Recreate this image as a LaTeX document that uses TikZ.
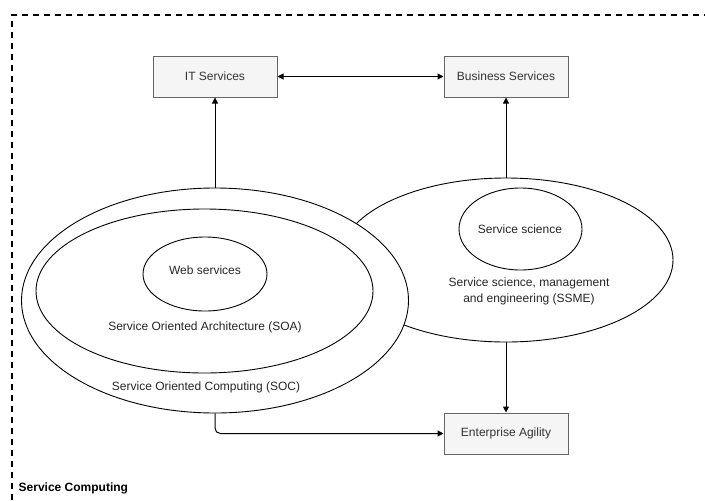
\documentclass[tikz,border=0pt]{standalone}
\usepackage{fontspec}
\setmainfont{Liberation Sans}
\usetikzlibrary{shapes.geometric,arrows.meta}
\newlength{\du}
\setlength{\du}{0.75pt}
\definecolor{boxfillcolor}{rgb}{0.960784, 0.960784, 0.960784}
\definecolor{boxlinecolor}{rgb}{0.400000, 0.400000, 0.400000}
\definecolor{boxtextcolor}{rgb}{0.200000, 0.200000, 0.200000}
\tikzset{
  svcbox/.style={draw=boxlinecolor, fill=boxfillcolor, text=boxtextcolor, line width=1\du,
    minimum width=124\du, minimum height=41\du, inner sep=0pt, font=\fontsize{9}{11}\selectfont},
  svcblob/.style={ellipse, draw, fill=white, line width=0.9\du, inner sep=0pt},
  svclabel/.style={align=center, text=black!85, font=\fontsize{9}{12}\selectfont},
  svcarrow/.style={-{Triangle[length=4.5pt,width=4.5pt]}, line width=1\du},
  svcboth/.style={{Triangle[length=4.5pt,width=4.5pt]}-{Triangle[length=4.5pt,width=4.5pt]}, line width=1\du},
  frameline/.style={line width=2\du, dash pattern=on 6\du off 5\du}
}

\begin{document}
\begin{tikzpicture}[x=\du, y=-\du]
\useasboundingbox (0,0) rectangle (705,500);
% outer dashed frame
\draw[frameline] (12,500) -- (12,15) -- (705,15);
\node[anchor=west, font=\fontsize{9}{11}\selectfont\bfseries] (title) at (14,488) {Service Computing};
% boxes
\node[svcbox] (it) at (215,76.5) {IT Services};
\node[svcbox] (bus) at (506,76.5) {Business Services};
\node[svcbox] (agil) at (506,433.5) {Enterprise Agility};
% ellipses
\node[svcblob, minimum width=334\du, minimum height=164\du] (ssme) at (506,260) {};
\node[svcblob, minimum width=123\du, minimum height=82\du] (sci) at (520.5,229) {};
\node[svcblob, minimum width=387\du, minimum height=225\du] (soc) at (215,300.5) {};
\node[svcblob, minimum width=337\du, minimum height=164\du] (soa) at (204.5,291) {};
\node[svcblob, minimum width=124\du, minimum height=74\du] (web) at (205,274) {};
% setfont left to latex
\node[svclabel] (webtext) at (205,270) {Web services};
\node[svclabel] (scitext) at (520,229) {Service science};
\node[svclabel] (soatext) at (205,327) {Service Oriented Architecture (SOA)};
\node[svclabel] (soctext) at (206,387) {Service Oriented Computing (SOC)};
\node[svclabel] (ssmetext) at (529,291) {Service science, management\\and engineering (SSME)};
% connectors
\draw[svcarrow] (soc.north) -- (it.south);
\draw[svcarrow] (ssme.north) -- (bus.south);
\draw[svcarrow] (ssme.south) -- (agil.north);
\draw[svcarrow, rounded corners=4pt] (soc.south) |- (agil.west);
\draw[svcboth] (it) -- (bus);
\end{tikzpicture}
\end{document}
